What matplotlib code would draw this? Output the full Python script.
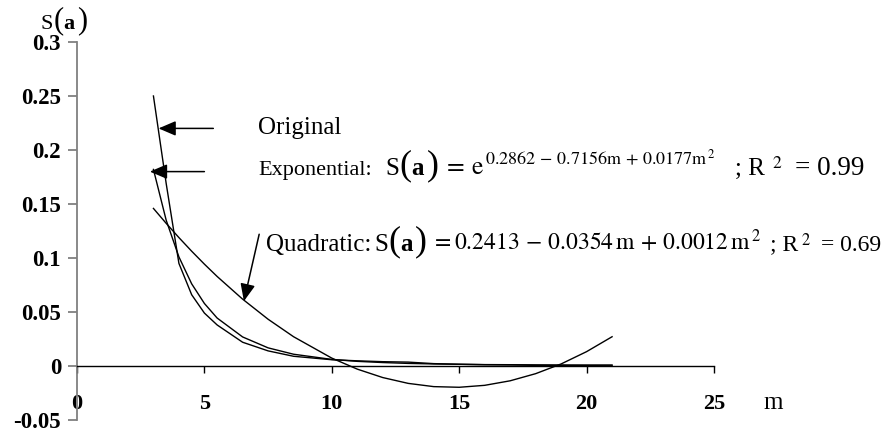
import matplotlib
matplotlib.use('Agg')
import matplotlib.pyplot as plt
from matplotlib.offsetbox import TextArea, HPacker, DrawingArea, AnnotationBbox

plt.rcParams['font.family'] = ['Liberation Serif', 'DejaVu Serif']
plt.rcParams['mathtext.fontset'] = 'stix'

# m values shared by the three series
m = [3, 3.5, 4, 4.5, 5, 5.5, 6.5, 7.5, 8.5, 10, 11, 12, 13, 14, 15, 16, 17, 18, 19, 20, 21]

original = [0.25, 0.169, 0.095, 0.066, 0.049, 0.038, 0.022, 0.014, 0.009, 0.0058, 0.0048,
            0.0040, 0.0036, 0.0022, 0.0016, 0.0012, 0.0010, 0.0006, 0.0004, 0.0003, 0.0002]
exponential = [0.182, 0.135, 0.101, 0.0761, 0.0579, 0.0444, 0.0269, 0.0168, 0.0109, 0.0061,
               0.0043, 0.0032, 0.0024, 0.0019, 0.0016, 0.0013, 0.0012, 0.00105, 0.00099,
               0.00096, 0.00097]
quadratic = [0.1459, 0.1321, 0.1189, 0.1063, 0.0943, 0.0829, 0.0619, 0.0433, 0.0271, 0.0073,
             -0.0029, -0.0107, -0.0161, -0.0191, -0.0197, -0.0179, -0.0137, -0.0071, 0.0019,
             0.0133, 0.0271]

xticks = [0, 5, 10, 15, 20, 25]
yticks = [-0.05, 0, 0.05, 0.1, 0.15, 0.2, 0.25, 0.3]
ytick_labels = ['-0.05', '0', '0.05', '0.1', '0.15', '0.2', '0.25', '0.3']

W, H = 891, 436
fig = plt.figure(figsize=(W / 100, H / 100), dpi=100)
ax = fig.add_axes([77 / W, 16 / H, (714 - 77) / W, (420 - 42) / H])

for serie in (original, exponential, quadratic):
    ax.plot(m, serie, color='black', lw=1.0)

ax.set_xlim(0, 25)
ax.set_ylim(-0.05, 0.3)

ax.spines['top'].set_visible(False)
ax.spines['right'].set_visible(False)
ax.spines['left'].set_color('#808080')
ax.spines['left'].set_linewidth(1.3)
ax.spines['bottom'].set_position(('data', 0))
ax.spines['bottom'].set_color('black')
ax.spines['bottom'].set_linewidth(1.0)

ax.set_xticks(xticks)
ax.set_xticklabels([str(t) for t in xticks], fontsize=16, fontweight='bold')
ax.set_yticks(yticks)
ax.set_yticklabels(ytick_labels, fontsize=16.5, fontweight='bold')
ax.tick_params(axis='x', direction='out', length=5, width=1.0, color='black', pad=15)
ax.tick_params(axis='y', direction='out', length=6.5, width=1.3, color='#808080', pad=5)

fleche = dict(arrowstyle='-|>,head_length=0.7,head_width=0.3', mutation_scale=15,
              lw=1.1, color='black', shrinkA=0, shrinkB=0)

ax.annotate('', xy=(3.2, 0.22), xytext=(5.35, 0.22), arrowprops=fleche)
ax.annotate('', xy=(2.86, 0.18), xytext=(5.0, 0.18), arrowprops=fleche)
ax.annotate('', xy=(6.55, 0.06), xytext=(7.15, 0.122), arrowprops=fleche)

ax.text(7.1, 0.2145, 'Original', fontsize=18, ha='left', va='baseline')


def morceau(txt, taille, gras=False):
    return TextArea(txt, textprops=dict(fontsize=taille,
                                        fontweight='bold' if gras else 'normal'))


def blanc(largeur):
    return DrawingArea(largeur, 1)


def ligne(morceaux, x, y):
    pack = HPacker(children=morceaux, align='baseline', pad=0, sep=0)
    ab = AnnotationBbox(pack, (x, y), xycoords='figure pixels', box_alignment=(0, 0.5),
                        frameon=False, pad=0)
    fig.add_artist(ab)


def s_de_a(taille, taille_par):
    return [morceau('S', taille), morceau('(', taille_par), morceau('a', taille, True),
            blanc(2), morceau(')', taille_par)]


ligne([morceau('Exponential:', 16), blanc(10)] + s_de_a(18, 26) +
      [blanc(3),
       morceau(r'$=\,\mathrm{e}^{\,0.2862\,-\,0.7156\mathrm{m}\,+\,0.0177\mathrm{m}^{\,2}}$', 18.5),
       blanc(14), morceau('; R', 18), blanc(5), morceau(r'$^{2}$', 18), blanc(9),
       morceau('= 0.99', 19.5)],
      258, H - 166)

ligne([morceau('Quadratic:', 18), blanc(2)] + s_de_a(18, 26) +
      [blanc(3),
       morceau(r'$=0.2413\,-\,0.0354\,\mathrm{m}\,+\,0.0012\,\mathrm{m}^{\,2}$', 17),
       blanc(6), morceau('; R', 17), blanc(2), morceau(r'$^{2}$', 17), blanc(7),
       morceau('= 0.69', 17)],
      266, H - 242)

ligne(s_de_a(16, 22), 41, H - 21)

fig.text(773 / W, 1 - 403 / H, 'm', fontsize=18, ha='center', va='center')

fig.savefig('out.png', dpi=100)
